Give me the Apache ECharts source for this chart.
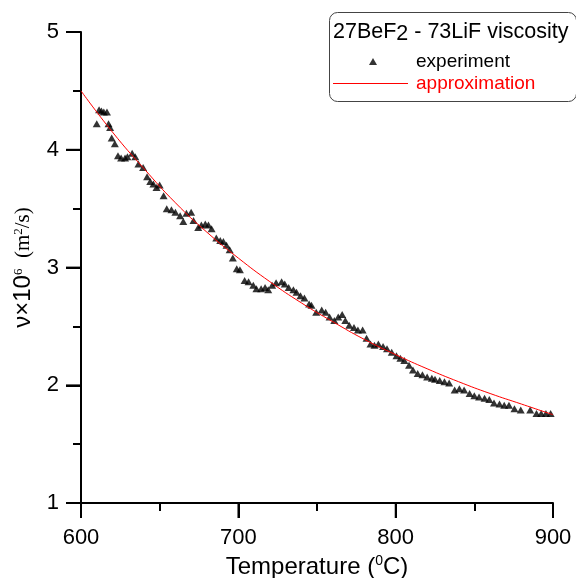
<!DOCTYPE html>
<html><head><meta charset="utf-8">
<script src="https://cdn.jsdelivr.net/npm/echarts@6/dist/echarts.min.js"></script>
<style>html,body{margin:0;padding:0;background:#fff}#c{width:576px;height:578px}</style>
</head><body><div id="c"></div>
<script>
// experimental points (temperature, °C) and kinematic viscosity (×10^6 m²/s)
const tempExp = [610, 611.5, 613, 614.5, 616.5, 617.5, 618.5, 619.5, 621.5, 623.5, 625.5, 628, 629.5, 632.5, 634.5, 636.5, 639.5, 642, 644, 646, 648, 650, 652.5, 654.5, 657.5, 660, 663, 665, 667, 670, 671.5, 674.5, 676.5, 679, 681, 683, 686, 688.5, 690.5, 692.5, 694.5, 696.5, 699, 701, 704, 706.5, 709.5, 711.5, 714.5, 717, 719, 721.5, 724, 727.5, 729.5, 732, 735, 737, 739.5, 742, 745, 746.5, 749.5, 753, 755.5, 758, 761, 763.5, 766, 768, 770.5, 773.5, 776, 779, 781.5, 784, 786.5, 789, 792, 794.5, 797.5, 800.5, 803, 805.5, 808.5, 811, 814, 817, 820, 823, 825, 828, 831, 834, 837.5, 840.5, 843.5, 847, 850, 853, 856.5, 859.5, 862.5, 866, 869, 872, 875.5, 879.5, 885.5, 889.5, 892.5, 895.5, 898.5];
const viscExp = [4.22, 4.34, 4.33, 4.32, 4.32, 4.22, 4.19, 4.10, 4.05, 3.95, 3.93, 3.93, 3.94, 3.97, 3.94, 3.88, 3.85, 3.77, 3.73, 3.71, 3.68, 3.70, 3.61, 3.50, 3.49, 3.47, 3.44, 3.39, 3.46, 3.47, 3.40, 3.34, 3.36, 3.37, 3.36, 3.33, 3.25, 3.23, 3.22, 3.19, 3.15, 3.08, 2.99, 2.98, 2.89, 2.88, 2.85, 2.82, 2.82, 2.83, 2.81, 2.85, 2.87, 2.88, 2.86, 2.83, 2.81, 2.79, 2.76, 2.74, 2.69, 2.68, 2.62, 2.64, 2.62, 2.58, 2.55, 2.58, 2.60, 2.55, 2.51, 2.49, 2.47, 2.47, 2.40, 2.35, 2.34, 2.35, 2.33, 2.31, 2.28, 2.25, 2.23, 2.21, 2.17, 2.13, 2.10, 2.09, 2.07, 2.06, 2.05, 2.04, 2.03, 2.02, 1.96, 1.97, 1.96, 1.93, 1.91, 1.90, 1.89, 1.88, 1.85, 1.84, 1.83, 1.83, 1.80, 1.79, 1.79, 1.76, 1.76, 1.76, 1.76];
// approximation curve
const tempFit = [600, 620, 640, 660, 680, 700, 720, 740, 760, 780, 800, 820, 840, 860, 880, 900];
const viscFit = [4.50, 4.15, 3.84, 3.55, 3.30, 3.08, 2.88, 2.70, 2.54, 2.39, 2.26, 2.14, 2.03, 1.93, 1.84, 1.75];
// axis ranges and major tick values
const xRange = [600, 900];
const yRange = [1, 5];
const xTicks = [600, 700, 800, 900];
const yTicks = [1, 2, 3, 4, 5];
const seriesNames = ['experiment', 'approximation'];
const legendTitle = ['27BeF', '2', ' - 73LiF viscosity'];

const FF = "'Liberation Sans', Arial, sans-serif";
const chart = echarts.init(document.getElementById('c'), null, {renderer: 'canvas'});
function axisParts() {
  return {
    axisLine: {show: true, onZero: false, lineStyle: {color: '#000', width: 2}},
    axisTick: {show: true, length: 15, lineStyle: {color: '#000', width: 2}},
    minorTick: {show: true, splitNumber: 2, length: 8, lineStyle: {color: '#000', width: 2}},
    splitLine: {show: false},
    minorSplitLine: {show: false}
  };
}
const TICK = 15;
chart.setOption({
  animation: false,
  backgroundColor: '#fff',
  grid: {left: 81, right: 23, top: 32, bottom: 75, outerBoundsMode: 'none', containLabel: false},
  xAxis: Object.assign({
    type: 'value', min: xRange[0], max: xRange[1], interval: 100,
    axisLabel: {fontSize: 22, color: '#000', margin: 24, fontFamily: FF},
    name: '{a|Temperature (}{s|0}{a|C)}',
    nameLocation: 'middle', nameGap: 48,
    nameTextStyle: {
      color: '#000', fontFamily: FF, fontSize: 24,
      rich: {
        a: {fontSize: 24, fontFamily: FF, color: '#000', lineHeight: 26},
        s: {fontSize: 14, fontFamily: FF, color: '#000', lineHeight: 14, verticalAlign: 'top'}
      }
    }
  }, axisParts()),
  yAxis: Object.assign({
    type: 'value', min: yRange[0], max: yRange[1], interval: 1,
    axisLabel: {fontSize: 22, color: '#000', margin: 22, fontFamily: FF},
    name: '{a|\u03BD\u00D710}{s|6}{b|  (m}{s|2}{b|/s)}',
    nameLocation: 'middle', nameGap: 44,
    nameTextStyle: {
      color: '#000', fontFamily: FF, fontSize: 22,
      rich: {
        a: {fontSize: 24, fontFamily: FF, color: '#000', lineHeight: 24},
        b: {fontSize: 21, fontFamily: "'Liberation Serif', 'Times New Roman', serif", color: '#000', lineHeight: 24},
        s: {fontSize: 13, fontFamily: "'Liberation Serif', serif", color: '#000', lineHeight: 13, verticalAlign: 'top'}
      }
    }
  }, axisParts()),
  legend: [
    {
      orient: 'vertical', left: 369, top: 52, padding: 0,
      itemWidth: 8, itemHeight: 7,
      textStyle: {fontSize: 19, fontFamily: FF, color: '#000', rich: {g: {width: 34}, t: {fontSize: 19, fontFamily: FF, color: '#000'}}},
      formatter: '{g|}{t|{name}}',
      data: [{name: seriesNames[0], icon: 'triangle'}]
    },
    {
      orient: 'vertical', left: 333, top: 74, padding: 0,
      itemWidth: 75, itemHeight: 1,
      textStyle: {fontSize: 19, fontFamily: FF, color: '#ff0000', rich: {g: {width: 3}, t: {fontSize: 19, fontFamily: FF, color: '#ff0000'}}},
      formatter: '{g|}{t|{name}}',
      data: [{name: seriesNames[1], icon: 'rect', itemStyle: {color: '#ff0000'}}]
    }
  ],
  graphic: [
    {type: 'rect', left: 327, top: 10, z: 0,
     shape: {width: 247, height: 89, r: 8},
     style: {fill: 'none', stroke: '#444', lineWidth: 1}},
    {type: 'text', left: 333, top: 21, z: 10,
     style: {
       text: '{a|' + legendTitle[0] + '}{s|' + legendTitle[1] + '}{a|' + legendTitle[2] + '}',
       rich: {
         a: {fontSize: 21.5, fontFamily: FF, fill: '#000', lineHeight: 26},
         s: {fontSize: 21.5, fontFamily: FF, fill: '#000', lineHeight: 21, verticalAlign: 'bottom'}
       }
     }}
  ],
  series: [
    {
      name: seriesNames[0], type: 'scatter',
      symbol: 'triangle', symbolSize: [8, 7],
      itemStyle: {color: '#000'},
      data: tempExp.map((t, i) => [t, viscExp[i]]),
      z: 2
    },
    {
      name: seriesNames[1], type: 'line',
      smooth: true, showSymbol: false, symbol: 'none',
      color: '#ff0000',
      lineStyle: {color: '#ff0000', width: 1},
      data: tempFit.map((t, i) => [t, viscFit[i]]),
      z: 3
    },
    {
      // major tick marks of the x axis, placed through the axis scale
      name: 'xMajorTicks', type: 'scatter', silent: true, clip: false, z: 10,
      symbol: 'rect', symbolSize: [2, TICK], symbolOffset: [0, TICK / 2],
      itemStyle: {color: '#000'},
      data: xTicks.map(v => [v, yRange[0]])
    },
    {
      // major tick marks of the y axis, placed through the axis scale
      name: 'yMajorTicks', type: 'scatter', silent: true, clip: false, z: 10,
      symbol: 'rect', symbolSize: [TICK, 2], symbolOffset: [-TICK / 2, 0],
      itemStyle: {color: '#000'},
      data: yTicks.map(v => [xRange[0], v])
    }
  ]
});
</script>
</body></html>
